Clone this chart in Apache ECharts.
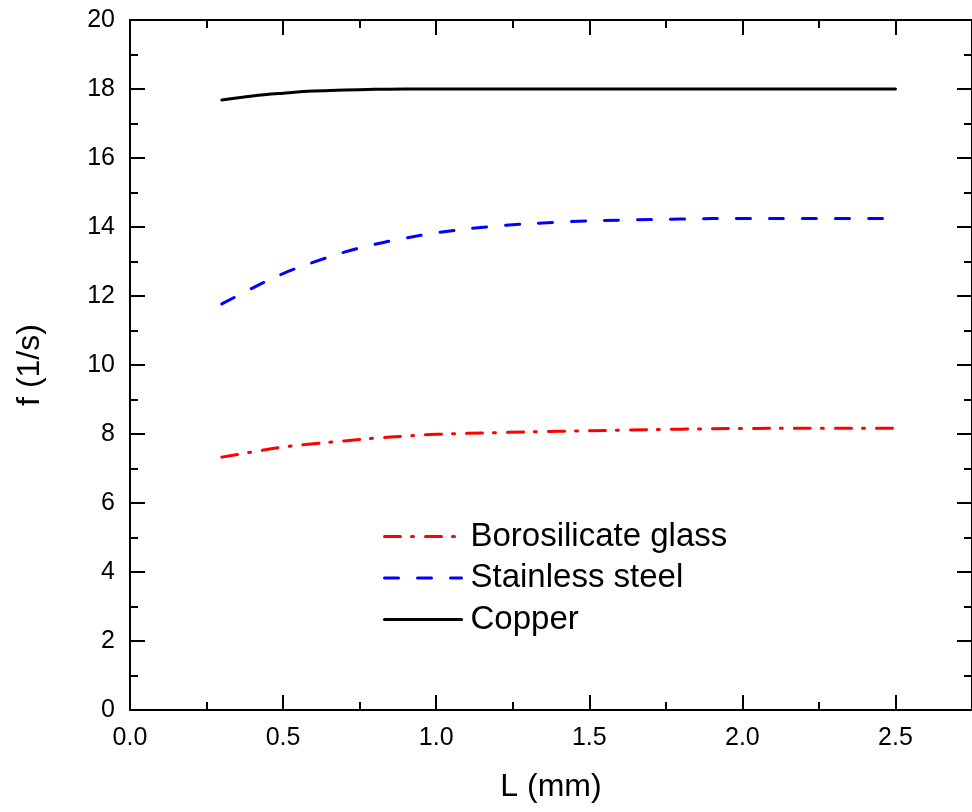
<!DOCTYPE html>
<html>
<head>
<meta charset="utf-8">
<script src="https://cdn.jsdelivr.net/npm/echarts@6/dist/echarts.min.js"></script>
<style>
html,body{margin:0;padding:0;background:#fff;overflow:hidden;}
#chart{width:972px;height:812px;}
</style>
</head>
<body>
<div id="chart"></div>
<script>
const L = [0.3, 0.4, 0.5, 0.6, 0.7, 0.8, 0.9, 1.0, 1.2, 1.4, 1.6, 1.8, 2.0, 2.2, 2.5];
const glass = [7.33, 7.48, 7.62, 7.72, 7.80, 7.88, 7.94, 7.99, 8.04, 8.08, 8.11, 8.14, 8.16, 8.17, 8.17];
const steel = [11.77, 12.23, 12.65, 12.98, 13.27, 13.50, 13.68, 13.83, 14.03, 14.14, 14.20, 14.23, 14.25, 14.25, 14.25];
const copper = [17.68, 17.80, 17.88, 17.94, 17.97, 17.99, 18.0, 18.0, 18.0, 18.0, 18.0, 18.0, 18.0, 18.0, 18.0];
const names = ['Borosilicate glass', 'Stainless steel', 'Copper'];

const font = 'Liberation Sans, Arial, sans-serif';
const pair = arr => L.map((x, i) => [x, arr[i]]);
const axisLine = {show: true, onZero: false, lineStyle: {color: '#000', width: 2}};
const tick = {show: true, inside: true, length: 15, lineStyle: {color: '#000', width: 2}};
const minor = {show: true, splitNumber: 2, length: 8, lineStyle: {color: '#000', width: 2}};

const chart = echarts.init(document.getElementById('chart'));
chart.setOption({
  animation: false,
  backgroundColor: '#fff',
  grid: {left: 130, top: 20, bottom: 102, right: -9, containLabel: false},
  legend: {
    orient: 'vertical', left: 383, top: 520, padding: 0,
    itemWidth: 77, itemHeight: 20, itemGap: 8.5,
    data: names,
    itemStyle: {opacity: 0},
    lineStyle: {width: 3},
    textStyle: {fontFamily: font, fontSize: 33, color: '#000', lineHeight: 32, padding: [0, 0, 0, 4]}
  },
  xAxis: [{
    type: 'value', min: 0, max: 2.75, interval: 0.5, position: 'bottom',
    name: 'L (mm)', nameLocation: 'middle', nameGap: 61,
    nameTextStyle: {fontFamily: font, fontSize: 32, color: '#000'},
    axisLine, axisTick: tick, minorTick: minor, splitLine: {show: false},
    axisLabel: {fontFamily: font, fontSize: 25, color: '#000', margin: 16, showMaxLabel: false,
      formatter: v => v.toFixed(1)}
  }, {
    type: 'value', min: 0, max: 2.75, interval: 0.5, position: 'top',
    axisLine, axisTick: tick, minorTick: minor, splitLine: {show: false},
    axisLabel: {show: false}
  }],
  yAxis: [{
    type: 'value', min: 0, max: 20, interval: 2, position: 'left',
    name: 'f (1/s)', nameLocation: 'middle', nameGap: 84,
    nameTextStyle: {fontFamily: font, fontSize: 32, color: '#000'},
    axisLine, axisTick: tick, minorTick: minor, splitLine: {show: false},
    axisLabel: {fontFamily: font, fontSize: 25, color: '#000', margin: 15}
  }, {
    type: 'value', min: 0, max: 20, interval: 2, position: 'right',
    axisLine, axisTick: tick, minorTick: minor, splitLine: {show: false},
    axisLabel: {show: false}
  }],
  series: [
    {name: names[0], type: 'line', data: pair(glass), smooth: 0.4, symbol: 'none',
     lineStyle: {color: '#ff0000', width: 3, type: [16, 11, 2, 12], cap: 'round'}, itemStyle: {color: '#ff0000'}},
    {name: names[1], type: 'line', data: pair(steel), smooth: 0.4, symbol: 'none',
     lineStyle: {color: '#0000ff', width: 3, type: [14, 19], cap: 'round'}, itemStyle: {color: '#0000ff'}},
    {name: names[2], type: 'line', data: pair(copper), smooth: 0.4, symbol: 'none',
     lineStyle: {color: '#000000', width: 3, type: 'solid', cap: 'round'}, itemStyle: {color: '#000000'}}
  ]
});
</script>
</body>
</html>
